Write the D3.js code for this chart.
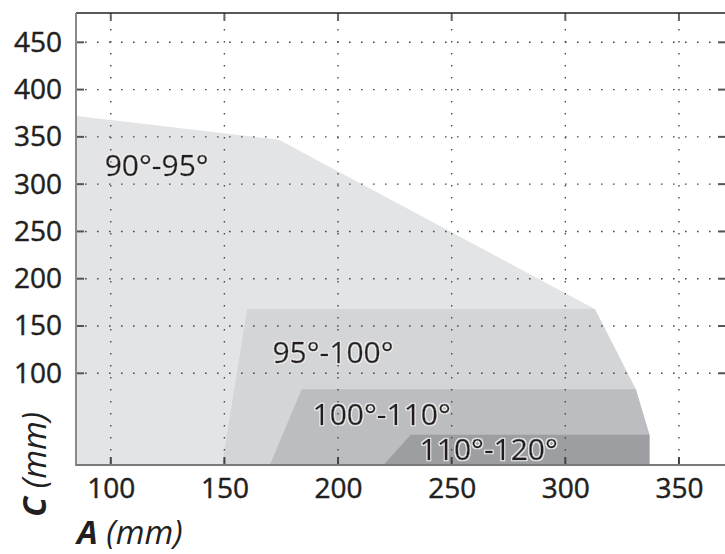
<!DOCTYPE html>
<html>
<head>
<meta charset="utf-8">
<script src="https://cdn.jsdelivr.net/npm/d3@7"></script>
<style>
  body { margin: 0; background: #fff; }
  svg { display: block; font-family: "Open Sans", "Noto Sans", sans-serif; }
  .tick-label text { fill: #231f20; stroke: #231f20; stroke-width: 0.45px; }
</style>
</head>
<body>
<div id="chart"></div>
<script>

// axis values
var xTicks = [100, 150, 200, 250, 300, 350];
var yTicks = [100, 150, 200, 250, 300, 350, 400, 450];

// zone outlines, [A, C] in mm
var zone90 = [[85, 3], [85, 372], [174, 347], [313, 168], [331, 83], [337, 35], [337, 3]];
var zone95 = [[149, 3], [160, 168], [313, 168], [331, 83], [337, 35], [337, 3]];
var zone100 = [[170, 3], [184, 83], [331, 83], [337, 35], [337, 3]];
var zone110 = [[220, 3], [232, 35], [337, 35], [337, 3]];

var zoneNames = ["90°-95°", "95°-100°", "100°-110°", "110°-120°"];
var zoneLabelAt = [[120.2, 308.6], [197.8, 110.9], [219.2, 45.3], [266.3, 8.5]];
var zoneColors = ["#e3e4e6", "#d4d5d7", "#bcbdc0", "#9d9ea1"];

var W = 725, H = 554;
var plotL = 76, plotR = 726, plotT = 13, plotB = 465;

var svg = d3.select("#chart").append("svg")
    .attr("width", W)
    .attr("height", H);

// light halo round the zone labels
var halo = svg.append("defs").append("filter")
    .attr("id", "halo")
    .attr("x", "-10%").attr("y", "-20%")
    .attr("width", "120%").attr("height", "140%");
halo.append("feMorphology")
    .attr("in", "SourceAlpha").attr("operator", "dilate")
    .attr("radius", 1.2).attr("result", "grown");
halo.append("feFlood").attr("flood-color", "#eeeeee").attr("result", "light");
halo.append("feComposite")
    .attr("in", "light").attr("in2", "grown").attr("operator", "in")
    .attr("result", "ring");
var merge = halo.append("feMerge");
merge.append("feMergeNode").attr("in", "ring");
merge.append("feMergeNode").attr("in", "SourceGraphic");

var x = d3.scaleLinear().domain([84.7, 370.7]).range([plotL, plotR]);
var y = d3.scaleLinear().domain([3, 481]).range([plotB, plotT]);

var area = d3.line()
    .x(function (d) { return x(d[0]); })
    .y(function (d) { return y(d[1]); });

var zones = [zone90, zone95, zone100, zone110];

svg.selectAll("path.zone")
    .data(zones)
    .enter()
    .append("path")
    .attr("class", "zone")
    .attr("d", function (d) { return area(d) + "Z"; })
    .attr("fill", function (d, i) { return zoneColors[i]; });

// dotted grid
svg.append("g").selectAll("line")
    .data(yTicks)
    .enter()
    .append("line")
    .attr("x1", plotL).attr("x2", plotR)
    .attr("y1", function (d) { return y(d); })
    .attr("y2", function (d) { return y(d); })
    .attr("stroke", "#4a4a4a")
    .attr("stroke-width", 1.4)
    .attr("stroke-dasharray", "1.6,10.4")
    .attr("stroke-dashoffset", -9);

svg.append("g").selectAll("line")
    .data(xTicks)
    .enter()
    .append("line")
    .attr("y1", plotT).attr("y2", plotB)
    .attr("x1", function (d) { return x(d); })
    .attr("x2", function (d) { return x(d); })
    .attr("stroke", "#4a4a4a")
    .attr("stroke-width", 1.4)
    .attr("stroke-dasharray", "1.6,10.4")
    .attr("stroke-dashoffset", -4);

// inward ticks
var tk = 8;
svg.append("g").selectAll("line")
    .data(xTicks)
    .enter()
    .append("line")
    .attr("x1", function (d) { return x(d); })
    .attr("x2", function (d) { return x(d); })
    .attr("y1", plotT).attr("y2", plotT + tk)
    .attr("stroke", "#666").attr("stroke-width", 2);

svg.append("g").selectAll("line")
    .data(xTicks)
    .enter()
    .append("line")
    .attr("x1", function (d) { return x(d); })
    .attr("x2", function (d) { return x(d); })
    .attr("y1", plotB).attr("y2", plotB - tk)
    .attr("stroke", "#444").attr("stroke-width", 2);

svg.append("g").selectAll("line")
    .data(yTicks)
    .enter()
    .append("line")
    .attr("x1", plotL).attr("x2", plotL + tk)
    .attr("y1", function (d) { return y(d); })
    .attr("y2", function (d) { return y(d); })
    .attr("stroke", "#555").attr("stroke-width", 2);

svg.append("g").selectAll("line")
    .data(yTicks)
    .enter()
    .append("line")
    .attr("x1", plotR - 8).attr("x2", plotR)
    .attr("y1", function (d) { return y(d); })
    .attr("y2", function (d) { return y(d); })
    .attr("stroke", "#555").attr("stroke-width", 2);

// frame
svg.append("line")
    .attr("x1", plotL).attr("x2", plotR).attr("y1", plotT).attr("y2", plotT)
    .attr("stroke", "#231f20").attr("stroke-width", 1.6);
svg.append("line")
    .attr("x1", plotL).attr("x2", plotL).attr("y1", plotT).attr("y2", plotB + 1)
    .attr("stroke", "#8a8a8a").attr("stroke-width", 2);
svg.append("line")
    .attr("x1", plotL).attr("x2", plotR).attr("y1", plotB).attr("y2", plotB)
    .attr("stroke", "#7a7a7a").attr("stroke-width", 2);

// tick labels
var xAxis = svg.append("g")
    .attr("class", "tick-label")
    .attr("transform", "translate(0," + plotB + ")")
    .call(d3.axisBottom(x).tickValues(xTicks).tickSize(0).tickPadding(13));
xAxis.select(".domain").remove();
xAxis.selectAll("text")
    .style("font-size", "28px")
    .style("font-family", "'Open Sans', sans-serif");

var yAxis = svg.append("g")
    .attr("class", "tick-label")
    .attr("transform", "translate(" + plotL + ",0)")
    .call(d3.axisLeft(y).tickValues(yTicks).tickSize(0).tickPadding(14));
yAxis.select(".domain").remove();
yAxis.selectAll("text")
    .style("font-size", "28px")
    .style("font-family", "'Open Sans', sans-serif");

// zone labels
svg.selectAll("text.zone-label")
    .data(zoneNames)
    .enter()
    .append("text")
    .attr("class", "zone-label")
    .attr("x", function (d, i) { return x(zoneLabelAt[i][0]); })
    .attr("y", function (d, i) { return y(zoneLabelAt[i][1]); })
    .attr("text-anchor", "middle")
    .attr("filter", "url(#halo)")
    .style("font-size", "30px")
    .attr("fill", "#231f20")
    .attr("stroke", "#231f20")
    .attr("stroke-width", 0.5)
    .text(function (d) { return d; });

// axis titles
var xt = svg.append("text")
    .attr("x", 77)
    .attr("y", 544)
    .attr("fill", "#231f20")
    .style("font-size", "33px")
    .style("font-style", "italic");
xt.append("tspan").style("font-weight", "bold").text("A");
xt.append("tspan").text(" (mm)");

var yt = svg.append("text")
    .attr("transform", "translate(46,517) rotate(-90)")
    .attr("fill", "#231f20")
    .style("font-size", "33px")
    .style("font-style", "italic");
yt.append("tspan").style("font-weight", "bold").text("C");
yt.append("tspan").text(" (mm)");

</script>
</body>
</html>
